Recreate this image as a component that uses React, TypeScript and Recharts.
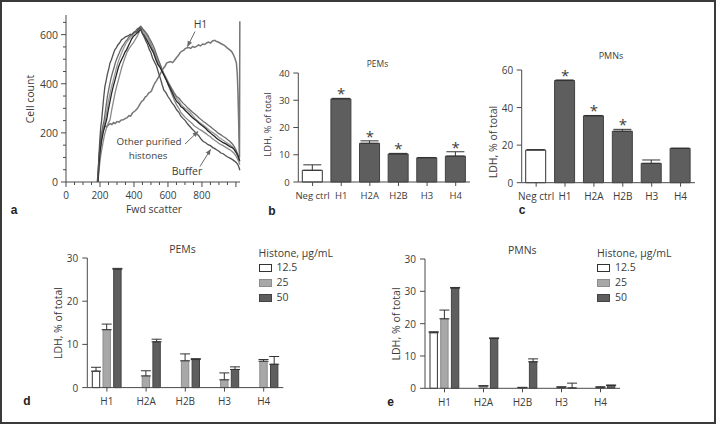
import {
  Bar,
  Cell,
  ComposedChart,
  ErrorBar,
  Legend,
  Line,
  LineChart,
  Scatter,
  XAxis,
  YAxis,
} from "recharts";

// ---- panel a: forward scatter histograms (channel, cell count) ----
const h1Curve: [number, number][] = [
  [184, 0], [190, 40], [195, 95], [200, 150], [205, 185], [210, 199], [218, 212], [226, 222],
  [234, 228], [242, 226], [250, 233], [260, 238], [270, 234], [280, 242], [290, 238], [300, 246],
  [312, 244], [324, 252], [337, 253], [348, 258], [360, 262], [370, 270], [380, 268], [392, 282],
  [404, 288], [416, 296], [426, 306], [436, 318], [445, 328], [456, 334], [466, 346], [475, 350],
  [486, 362], [496, 366], [504, 372], [514, 390], [523, 403], [532, 412], [542, 424], [553, 437],
  [562, 450], [572, 462], [582, 470], [592, 484], [604, 488], [616, 490], [628, 486], [641, 498],
  [652, 508], [662, 516], [670, 525], [680, 532], [692, 536], [700, 542], [710, 546], [722, 548],
  [734, 544], [746, 552], [756, 548], [768, 552], [780, 558], [792, 554], [804, 562], [816, 560],
  [827, 566], [838, 570], [850, 566], [862, 574], [876, 577], [886, 572], [896, 570], [906, 566],
  [916, 562], [925, 559], [936, 554], [948, 546], [960, 540], [974, 532], [984, 520], [994, 504],
  [1003, 484], [1008, 440], [1012, 360], [1016, 250], [1019, 140], [1021, 100], [1023, 655],
];
const bufferCurve: [number, number][] = [
  [186, 0], [192, 80], [198, 160], [204, 220], [210, 253], [216, 300], [222, 345], [229, 389],
  [236, 412], [244, 440], [252, 462], [259, 485], [266, 496], [274, 512], [281, 526], [288, 539],
  [296, 546], [305, 558], [315, 566], [327, 580], [338, 584], [348, 590], [357, 593], [368, 596],
  [378, 602], [388, 600], [396, 607], [406, 612], [416, 610], [426, 622], [434, 628], [442, 618],
  [450, 604], [460, 590], [470, 574], [480, 560], [490, 540], [500, 526], [510, 504], [520, 490],
  [533, 471], [544, 446], [556, 420], [566, 396], [576, 374], [588, 364], [600, 348], [612, 336],
  [624, 322], [638, 310], [651, 294], [664, 284], [676, 268], [690, 258], [702, 250], [716, 236],
  [729, 226], [742, 216], [756, 206], [770, 196], [782, 188], [796, 174], [808, 165], [822, 160],
  [836, 152], [850, 148], [864, 140], [876, 136], [886, 131], [898, 126], [912, 118], [925, 115],
  [938, 108], [952, 102], [965, 97], [978, 92], [990, 86], [1002, 80], [1012, 70], [1018, 60],
  [1023, 48],
];
const histA: [number, number][] = [
  [188, 0], [194, 70], [200, 120], [210, 170], [220, 205], [230, 232], [239, 253], [248, 290],
  [258, 325], [268, 360], [278, 389], [288, 414], [298, 440], [308, 466], [318, 485], [328, 500],
  [338, 514], [348, 530], [357, 539], [368, 556], [378, 570], [386, 582], [396, 593], [406, 598],
  [416, 606], [425, 610], [432, 618], [440, 622], [448, 608], [458, 598], [470, 584], [480, 572],
  [492, 556], [504, 540], [516, 524], [528, 500], [540, 480], [552, 468], [564, 452], [576, 436],
  [588, 418], [600, 400], [614, 380], [626, 362], [638, 344], [651, 328], [664, 320], [677, 306],
  [690, 300], [703, 290], [716, 282], [729, 273], [742, 264], [756, 256], [770, 248], [782, 240],
  [796, 232], [808, 226], [822, 218], [836, 208], [850, 200], [862, 192], [874, 186], [886, 178],
  [898, 172], [912, 166], [925, 160], [938, 156], [952, 150], [965, 144], [978, 140], [990, 132],
  [1002, 120], [1012, 108], [1018, 96], [1023, 86],
];
const histB: [number, number][] = [
  [188, 0], [196, 60], [205, 110], [215, 150], [226, 190], [238, 220], [249, 240], [259, 253],
  [268, 290], [278, 325], [288, 360], [298, 389], [308, 414], [318, 440], [328, 466], [337, 485],
  [348, 508], [360, 530], [372, 544], [384, 556], [396, 566], [406, 578], [416, 590], [426, 604],
  [436, 618], [445, 630], [452, 620], [462, 616], [472, 600], [482, 590], [494, 572], [506, 552],
  [518, 534], [530, 512], [542, 494], [554, 478], [566, 456], [578, 438], [590, 420], [600, 398],
  [614, 374], [626, 352], [638, 332], [651, 314], [664, 300], [677, 282], [690, 272], [703, 262],
  [716, 254], [729, 246], [742, 238], [756, 228], [770, 222], [782, 216], [796, 210], [808, 205],
  [822, 198], [836, 190], [850, 184], [862, 176], [874, 170], [886, 165], [898, 158], [912, 152],
  [925, 148], [938, 142], [952, 136], [965, 131], [978, 124], [990, 116], [1002, 104], [1012, 90],
  [1018, 80], [1023, 70],
];
const histC: [number, number][] = [
  [188, 0], [193, 90], [200, 140], [208, 190], [216, 225], [225, 253], [234, 300], [244, 350],
  [255, 389], [264, 420], [274, 446], [283, 466], [290, 485], [300, 504], [310, 520], [320, 536],
  [330, 550], [340, 560], [350, 572], [360, 580], [370, 590], [380, 596], [390, 602], [400, 610],
  [410, 615], [420, 624], [430, 628], [440, 634], [448, 626], [458, 618], [468, 610], [480, 600],
  [490, 586], [500, 574], [510, 560], [520, 545], [532, 520], [544, 498], [556, 476], [572, 444],
  [584, 424], [596, 410], [610, 395], [624, 378], [638, 362], [651, 348], [664, 342], [677, 330],
  [690, 320], [703, 312], [716, 302], [729, 294], [742, 286], [756, 278], [770, 270], [782, 262],
  [796, 254], [808, 246], [822, 240], [836, 232], [850, 225], [862, 218], [874, 212], [886, 205],
  [898, 198], [912, 192], [925, 185], [938, 180], [952, 172], [965, 165], [978, 156], [990, 144],
  [1002, 128], [1012, 108], [1019, 90],
];
const histD: [number, number][] = [
  [188, 0], [195, 85], [203, 140], [212, 185], [222, 225], [232, 253], [241, 290], [250, 330],
  [259, 360], [268, 389], [278, 414], [288, 440], [296, 462], [305, 485], [316, 506], [328, 526],
  [340, 546], [350, 560], [360, 572], [372, 582], [384, 592], [392, 598], [402, 606], [412, 612],
  [422, 620], [430, 625], [438, 630], [446, 620], [456, 612], [468, 596], [480, 580], [492, 566],
  [504, 548], [516, 530], [528, 508], [540, 488], [552, 472], [564, 458], [576, 442], [588, 426],
  [600, 410], [614, 390], [626, 372], [638, 356], [651, 340], [664, 330], [677, 316], [690, 306],
  [703, 298], [716, 292], [729, 285], [742, 274], [756, 262], [770, 252], [782, 244], [796, 238],
  [808, 232], [822, 224], [836, 216], [850, 208], [862, 202], [874, 196], [886, 190], [898, 182],
  [912, 176], [925, 170], [938, 164], [952, 158], [965, 152], [978, 144], [990, 134], [1002, 118],
  [1012, 100], [1018, 88], [1023, 80],
];
const scatterTicksX = [0, 50, 100, 150, 200, 250, 300, 350, 400, 450, 500, 550, 600, 650, 700, 750, 800, 850, 900, 950, 1000];
const scatterTicksY = [0, 50, 100, 150, 200, 250, 300, 350, 400, 450, 500, 550, 600, 650];

// ---- panels b/c: LDH release per histone ----
const histoneCats = ["Neg ctrl", "H1", "H2A", "H2B", "H3", "H4"];
const pemsValues = [4.3, 30.5, 14.2, 10.3, 8.9, 9.5];
const pemsErr = [2.0, 0.2, 0.9, 0.2, 0.1, 1.6];
const pemsSig = [false, true, true, true, false, true];
const pmnsValues = [17.4, 54.4, 35.6, 27.4, 10.3, 18.3];
const pmnsErr = [0.2, 0.3, 0.2, 1.0, 1.8, 0];
const pmnsSig = [false, true, true, true, false, false];

// ---- panels d/e: dose response ----
const doseCats = ["H1", "H2A", "H2B", "H3", "H4"];
const doseNames = ["12.5", "25", "50"];
const pem12 = [3.8, null, null, null, null];
const pem12Err = [0.9, 0, 0, 0, 0];
const pem25 = [13.4, 2.7, 6.2, 1.8, 6.1];
const pem25Err = [1.3, 1.2, 1.6, 1.6, 0.4];
const pem50 = [27.4, 10.6, 6.5, 4.2, 5.4];
const pem50Err = [0.2, 0.6, 0.2, 0.6, 1.8];
const pmn12 = [17.2, null, null, null, null];
const pmn12Err = [0.3, 0, 0, 0, 0];
const pmn25 = [21.5, 0.7, 0.2, 0.2, 0.2];
const pmn25Err = [2.7, 0.1, 0.1, 0.3, 0.3];
const pmn50 = [31.0, 15.4, 8.2, 0.1, 0.9];
const pmn50Err = [0.2, 0.2, 0.9, 1.5, 0.1];

const AXIS = "#4a4a4a";
const TEXT = "#3c3c3c";
const FONT = "'Open Sans', sans-serif";
const DARK = "#5e5e5e";
const DARK_EDGE = "#424242";
const LIGHT = "#a8a8a8";
const LIGHT_EDGE = "#8c8c8c";
const doseFill = ["#ffffff", LIGHT, DARK];
const doseEdge = ["#333333", LIGHT_EDGE, DARK_EDGE];

const toPoints = (c: [number, number][]) => c.map(([x, y]) => ({ x, y }));

const barRows = (vals: number[], errs: number[], sig: boolean[]) =>
  histoneCats.map((name, i) => ({
    name,
    value: vals[i],
    errRange: [0, errs[i]],
    star: sig[i] ? vals[i] + errs[i] : null,
  }));

const doseRows = (
  v12: (number | null)[], e12: number[],
  v25: number[], e25: number[],
  v50: number[], e50: number[],
) =>
  doseCats.map((name, i) => ({
    name,
    d12: v12[i],
    d25: v25[i],
    d50: v50[i],
    r12: v12[i] == null ? null : [0, e12[i]],
    r25: [0, e25[i]],
    r50: [0, e50[i]],
  }));

const pemsRows = barRows(pemsValues, pemsErr, pemsSig);
const pmnsRows = barRows(pmnsValues, pmnsErr, pmnsSig);
const pemDoseRows = doseRows(pem12, pem12Err, pem25, pem25Err, pem50, pem50Err);
const pmnDoseRows = doseRows(pmn12, pmn12Err, pmn25, pmn25Err, pmn50, pmn50Err);

// custom ticks: tickSize/tickMargin are 0, so (x, y) sit on the axis line
function xTick(len: (v: any) => number, gap: number, size: number, label: (v: any) => string | null) {
  return (p: any) => {
    const v = p.payload?.value;
    const txt = label(v);
    return (
      <g>
        <line x1={p.x} x2={p.x} y1={p.y} y2={p.y + len(v)} stroke={AXIS} />
        {txt !== null && (
          <text x={p.x} y={p.y + gap} textAnchor="middle" dominantBaseline="central"
            fontSize={size} fill={TEXT} fontFamily={FONT}>{txt}</text>
        )}
      </g>
    );
  };
}

function yTick(len: (v: any) => number, gap: number, size: number, label: (v: any) => string | null) {
  return (p: any) => {
    const v = p.payload?.value;
    const txt = label(v);
    const l = len(v);
    return (
      <g>
        <line x1={p.x - l} x2={p.x} y1={p.y} y2={p.y} stroke={AXIS} />
        {txt !== null && (
          <text x={p.x - l - gap} y={p.y} textAnchor="end" dominantBaseline="central"
            fontSize={size} fill={TEXT} fontFamily={FONT}>{txt}</text>
        )}
      </g>
    );
  };
}

const renderStar = (p: any) => {
  if (p.payload?.star == null || p.cy == null || Number.isNaN(p.cy)) return <g />;
  return (
    <text x={p.cx} y={p.cy + 1} textAnchor="middle" fontSize={15} fill={TEXT} fontFamily={FONT}>*</text>
  );
};

function DoseLegend(props: any) {
  const items = props.payload ?? [];
  return (
    <div style={{ fontFamily: FONT, fontSize: 10.5, color: TEXT }}>
      <div style={{ height: 14, lineHeight: "14px", whiteSpace: "nowrap" }}>Histone, µg/mL</div>
      {items.map((it: any, i: number) => (
        <div key={it.value} style={{ display: "flex", alignItems: "center", height: 15, lineHeight: "15px" }}>
          <span style={{
            display: "inline-block", width: 13, height: 8, boxSizing: "border-box",
            background: doseFill[i], border: `1px solid ${doseEdge[i]}`, marginRight: 5,
          }} />
          <span>{it.value}</span>
        </div>
      ))}
    </div>
  );
}

function HistogramPanel() {
  const major = (v: number) => (v % 200 === 0 ? 5 : 3);
  const curves = [
    { id: "H1", pts: h1Curve, color: "#767676", w: 1.5 },
    { id: "H2A", pts: histD, color: "#9a9a9a", w: 1.3 },
    { id: "H2B", pts: histB, color: "#8a8a8a", w: 1.3 },
    { id: "H3", pts: histC, color: "#6a6a6a", w: 1.3 },
    { id: "H4", pts: histA, color: "#262626", w: 1.3 },
    { id: "Buffer", pts: bufferCurve, color: "#505050", w: 1.3 },
  ];
  return (
    <LineChart width={250} height={220} margin={{ top: 15, right: 10, bottom: 8, left: 26 }}>
      <XAxis type="number" dataKey="x" domain={[0, 1024]} ticks={scatterTicksX} interval={0}
        height={30} tickSize={0} tickMargin={0} tickLine={false} axisLine={{ stroke: AXIS }}
        tick={xTick(major, 13, 10, (v) => (v % 200 === 0 && v <= 800 ? String(v) : null))} />
      <YAxis type="number" domain={[0, 680]} ticks={scatterTicksY} interval={0} width={40}
        tickSize={0} tickMargin={0} tickLine={false} axisLine={{ stroke: AXIS }}
        tick={yTick(major, 3, 10.5, (v) => (v % 200 === 0 ? String(v) : null))} />
      {curves.map((c) => (
        <Line key={c.id} data={toPoints(c.pts)} dataKey="y" type="linear" stroke={c.color}
          strokeWidth={c.w} dot={false} isAnimationActive={false} />
      ))}
    </LineChart>
  );
}

function LdhPanel({ rows, max, step, width, height, margin, font }: any) {
  const ticks: number[] = [];
  for (let t = 0; t <= max; t += step) ticks.push(t);
  return (
    <ComposedChart width={width} height={height} data={rows} margin={margin}>
      <XAxis dataKey="name" height={25} interval={0} tickSize={0} tickMargin={0} tickLine={false}
        axisLine={{ stroke: AXIS }} tick={xTick(() => 4, 13, font, (v) => String(v))} />
      <YAxis domain={[0, max]} ticks={ticks} interval={0} width={38} tickSize={0} tickMargin={0}
        tickLine={false} axisLine={{ stroke: AXIS }} tick={yTick(() => 5, 3.5, font, (v) => String(v))} />
      <Bar dataKey="value" barSize={20} isAnimationActive={false}>
        {rows.map((r: any, i: number) => (
          <Cell key={r.name} fill={i === 0 ? "#ffffff" : DARK} stroke={i === 0 ? "#333333" : DARK_EDGE} />
        ))}
        <ErrorBar dataKey="errRange" width={9} stroke="#333333" strokeWidth={1} direction="y" />
      </Bar>
      <Scatter dataKey="star" shape={renderStar} isAnimationActive={false} />
    </ComposedChart>
  );
}

function DosePanel({ rows, max, labels, margin, legendLeft }: any) {
  const ticks: number[] = [];
  for (let t = 0; t <= max; t += 10) ticks.push(t);
  const keys = ["d12", "d25", "d50"];
  const errs = ["r12", "r25", "r50"];
  return (
    <ComposedChart width={320} height={190} data={rows} margin={margin} barGap={3.3}>
      <XAxis dataKey="name" height={25} interval={0} tickSize={0} tickMargin={0} tickLine={false}
        axisLine={{ stroke: AXIS }} tick={xTick(() => 4, 13.5, 10, (v) => String(v))} />
      <YAxis domain={[0, max]} ticks={ticks} interval={0} width={38} tickSize={0} tickMargin={0}
        tickLine={false} axisLine={{ stroke: AXIS }}
        tick={yTick(() => 5, 4, 10, (v) => labels[ticks.indexOf(v)] ?? String(v))} />
      {keys.map((k, i) => (
        <Bar key={k} dataKey={k} name={doseNames[i]} barSize={7.4} fill={doseFill[i]}
          stroke={doseEdge[i]} isAnimationActive={false}>
          <ErrorBar dataKey={errs[i]} width={5} stroke="#333333" strokeWidth={1} direction="y" />
        </Bar>
      ))}
      <Legend layout="vertical" align="center" verticalAlign="middle" content={DoseLegend}
        wrapperStyle={{ left: legendLeft, top: 16, width: 110 }} />
    </ComposedChart>
  );
}

const abs = (left: number, top: number) => ({ position: "absolute" as const, left, top });

export default function App() {
  const txt = { fill: TEXT, fontFamily: FONT };
  const letter = { fill: "#222", fontFamily: "'Liberation Sans', Arial, sans-serif", fontWeight: 700, fontSize: 12 };
  return (
    <div style={{ position: "absolute", left: 0, top: 0, width: 716, height: 424, background: "#fff", overflow: "hidden" }}>
      <div style={abs(0, 0)}>
        <HistogramPanel />
      </div>
      <div style={abs(250, 40)}>
        <LdhPanel rows={pemsRows} max={40} step={10} width={230} height={175}
          margin={{ top: 33, right: 10, bottom: 8, left: 10.3 }} font={9.5} />
      </div>
      <div style={abs(475, 20)}>
        <LdhPanel rows={pmnsRows} max={60} step={20} width={235} height={200}
          margin={{ top: 50, right: 15, bottom: 12.3, left: 8.7 }} font={10} />
      </div>
      <div style={abs(30, 230)}>
        <DosePanel rows={pemDoseRows} max={30} labels={["0", "10", "20", "30"]}
          margin={{ top: 28, right: 66.7, bottom: 7.4, left: 19.3 }} legendLeft={228.5} />
      </div>
      <div style={abs(370, 230)}>
        <DosePanel rows={pmnDoseRows} max={40} labels={["0", "10", "20", "30", "30"]}
          margin={{ top: 29, right: 70, bottom: 6.7, left: 17 }} legendLeft={227} />
      </div>

      <svg width={716} height={424} style={{ position: "absolute", left: 0, top: 0, pointerEvents: "none" }}>
        <defs>
          <marker id="arr" viewBox="0 0 10 10" refX="9" refY="5" markerWidth="6" markerHeight="6" orient="auto">
            <path d="M0,1 L10,5 L0,9 z" fill="#6a6a6a" />
          </marker>
        </defs>
        {/* panel a annotations */}
        <text x={200.5} y={24} textAnchor="middle" dominantBaseline="central" fontSize={10.5} {...txt}>H1</text>
        <line x1={195} y1={31.5} x2={187.5} y2={46.5} stroke="#6a6a6a" markerEnd="url(#arr)" />
        <text x={149} y={141.5} textAnchor="middle" dominantBaseline="central" fontSize={9.8} {...txt}>Other purified</text>
        <text x={148} y={155.3} textAnchor="middle" dominantBaseline="central" fontSize={9.8} {...txt}>histones</text>
        <line x1={185} y1={144} x2={198} y2={131.5} stroke="#6a6a6a" markerEnd="url(#arr)" />
        <text x={187} y={171} textAnchor="middle" dominantBaseline="central" fontSize={10.5} {...txt}>Buffer</text>
        <line x1={200} y1={166.5} x2={210.5} y2={149.5} stroke="#6a6a6a" markerEnd="url(#arr)" />
        <text x={30} y={99} transform="rotate(-90 30 99)" textAnchor="middle" dominantBaseline="central" fontSize={10.5} {...txt}>Cell count</text>
        <text x={154} y={209} textAnchor="middle" dominantBaseline="central" fontSize={10.5} {...txt}>Fwd scatter</text>

        {/* titles and axis titles */}
        <text x={377.5} y={63.5} textAnchor="middle" dominantBaseline="central" fontSize={8.5} {...txt}>PEMs</text>
        <text x={267.5} y={124.5} transform="rotate(-90 267.5 124.5)" textAnchor="middle" dominantBaseline="central" fontSize={9.3} {...txt}>LDH, % of total</text>
        <text x={611} y={55} textAnchor="middle" dominantBaseline="central" fontSize={9} {...txt}>PMNs</text>
        <text x={492.5} y={142} transform="rotate(-90 492.5 142)" textAnchor="middle" dominantBaseline="central" fontSize={10.5} {...txt}>LDH, % of total</text>
        <text x={182.5} y={248.5} textAnchor="middle" dominantBaseline="central" fontSize={10.5} {...txt}>PEMs</text>
        <text x={57.5} y={323} transform="rotate(-90 57.5 323)" textAnchor="middle" dominantBaseline="central" fontSize={10.4} {...txt}>LDH, % of total</text>
        <text x={522.3} y={249.5} textAnchor="middle" dominantBaseline="central" fontSize={10.5} {...txt}>PMNs</text>
        <text x={396} y={324} transform="rotate(-90 396 324)" textAnchor="middle" dominantBaseline="central" fontSize={10.6} {...txt}>LDH, % of total</text>

        {/* panel letters */}
        <text x={14} y={210} textAnchor="middle" dominantBaseline="central" {...letter}>a</text>
        <text x={272} y={211} textAnchor="middle" dominantBaseline="central" {...letter}>b</text>
        <text x={522} y={210} textAnchor="middle" dominantBaseline="central" {...letter}>c</text>
        <text x={27} y={401} textAnchor="middle" dominantBaseline="central" {...letter}>d</text>
        <text x={390.5} y={401.5} textAnchor="middle" dominantBaseline="central" {...letter}>e</text>

        <rect x={1} y={1} width={714} height={422} fill="none" stroke="#3a3a3a" strokeWidth={2} />
      </svg>
    </div>
  );
}
